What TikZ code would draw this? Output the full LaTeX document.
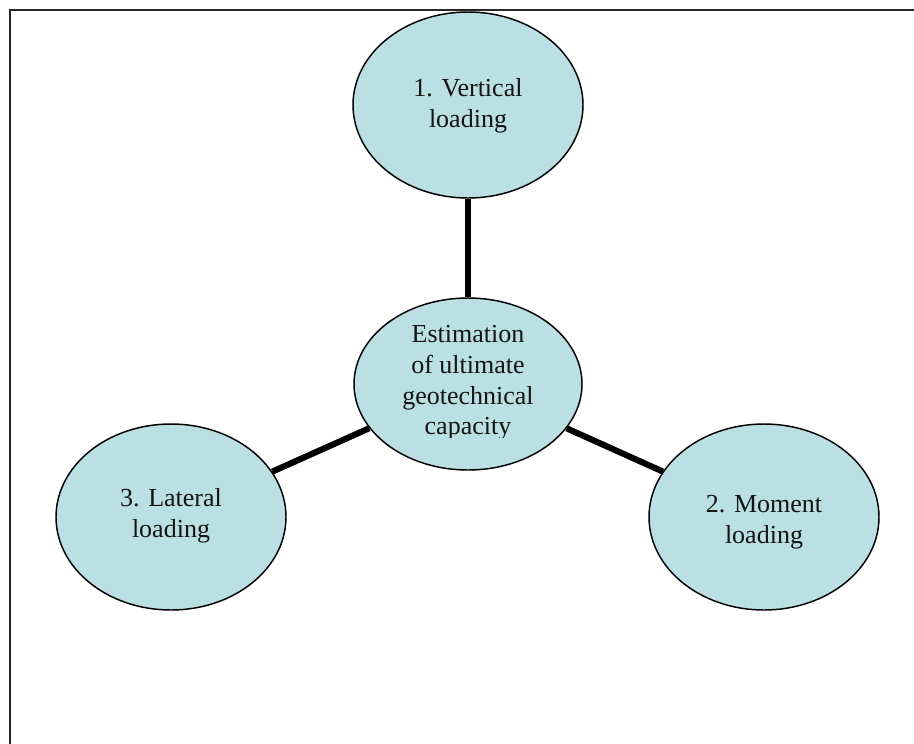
\documentclass[tikz,border=0pt]{standalone}
\usepackage{fontspec}
\setmainfont{Liberation Serif}
\usetikzlibrary{shapes.geometric}
\definecolor{bubble}{RGB}{187,224,227}
\definecolor{ink}{RGB}{20,20,20}
\tikzset{
  bub/.style={ellipse, draw=black, line width=1.1pt, fill=bubble, inner sep=0pt,
    minimum width=230*0.75pt, minimum height=186*0.75pt},
  cbub/.style={bub, minimum width=228*0.75pt, minimum height=172*0.75pt},
  lbl/.style={align=center, inner sep=0pt, text=ink,
    font=\fontsize{19.5pt}{23pt}\selectfont},
  link/.style={line width=4.6pt, black},
  frame/.style={line width=1.6pt, draw=black!85}
}
\begin{document}
\begin{tikzpicture}[x=0.75pt,y=-0.75pt]
\useasboundingbox (0,0) rectangle (914,743);
\draw[frame] (10,745) -- (10,10) -- (916,10);
\node[bub]  (v) at (468,105) {};
\node[cbub] (c) at (468,384) {};
\node[bub]  (l) at (171,517) {};
\node[bub]  (m) at (764,517) {};
\draw[link] (v) -- (c);
\draw[link] (c) -- (m);
\draw[link] (c) -- (l);
\node[lbl] (tv) at (468,106) {1. Vertical\\loading};
\node[lbl] (tm) at (764,522) {2. Moment\\loading};
\node[lbl] (tl) at (171,516) {3. Lateral\\loading};
\begin{scope}
\clip (300,280) rectangle (640,437.5);
\node[lbl, font=\fontsize{19.5pt}{23pt}\selectfont] (tc) at (468,383) {Estimation\\of ultimate\\geotechnical\\capacity};
\end{scope}
\end{tikzpicture}
\end{document}
